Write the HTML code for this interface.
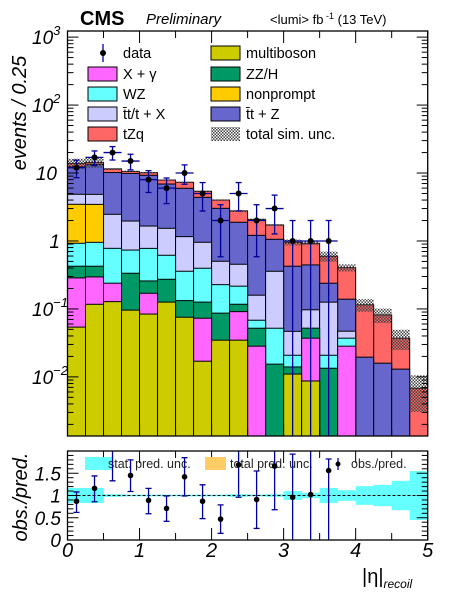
<!DOCTYPE html>
<html><head><meta charset="utf-8"><style>
html,body{margin:0;padding:0;background:#fff;}
svg{display:block;font-family:"Liberation Sans",sans-serif;}
</style></head><body>
<svg id="c" width="450" height="600" viewBox="0 0 450 600"></svg>
<script>
const binEdges = [0,0.25,0.5,0.75,1,1.25,1.5,1.75,2,2.25,2.5,2.75,3,3.25,3.5,3.75,4,4.25,4.5,4.75,5];
const multiboson = [0.054,0.117,0.128,0.096,0.084,0.126,0.0755,0.017,0.0347,0.0347,0,0,0.011,0.0087,0,0,0,0,0,0];
const xgamma = [0.232,0.179,0.111,0,0.086,0,0,0.056,0,0.0565,0.0283,0,0,0.0284,0,0.0283,0,0,0,0];
const zzh = [0.139,0.129,0,0.239,0.088,0.147,0.057,0.053,0.052,0.026,0.0237,0.0154,0.003,0.015,0.0134,0,0,0,0,0];
const wz = [0.50,0.53,0.54,0.40,0.52,0.343,0.226,0.271,0.141,0.099,0.0162,0.0366,0.0068,0,0.0074,0.0088,0,0,0,0];
const nonprompt = [2.54,2.50,0,0,0,0,0,0,0,0,0,0,0,0,0,0,0,0,0,0];
const ttx = [1.40,1.40,1.69,1.23,0.88,0.92,0.80,0.56,0.275,0.238,0.091,0.306,0.026,0.045,0.105,0.0099,0,0,0,0];
const ttz = [7.5,8.5,7.7,7.9,7.6,5.35,4.8,3.43,2.52,1.43,1.05,0.70,0.378,0.347,0.113,0.092,0.0195,0.0159,0.013,0];
const tzq = [1.5,1.0,1.3,0.7,0.85,1.0,1.34,1.0,0.98,0.88,0.87,0.66,0.53,0.48,0.357,0.266,0.0955,0.0657,0.0241,0.0068];
const relUnc = [0.17,0.17,0.03,0.02,0.02,0.02,0.02,0.02,0.02,0.03,0.02,0.03,0.1,0.06,0.17,0.12,0.21,0.24,0.33,0.55];
const dataCounts = [12,17,20,15,8,6,10,5,2,5,2,3,1,1,1,null,null,null,null,null];
const ratioVals = [0.87,1.16,2.1,1.45,0.89,0.71,1.42,0.87,0.47,1.69,0.91,1.66,0.96,1.02,1.56,null,null,null,null,null];
const ratioUp = [1.08,1.44,2.6,1.8,1.16,0.99,1.85,1.24,0.79,2.1,1.55,2.2,1.93,2.2,1.82,null,null,null,null,null];
const ratioDn = [0.62,0.86,1.33,1.09,0.59,0.42,0.99,0.48,0.15,0.96,0.26,0.68,0,0,0,null,null,null,null,null];
const yTicksMain = [-2,-1,0,1,2,3];
const xTickLabels = ["0","1","2","3","4","5"];
const ratioTickLabels = [[0,"0"],[0.5,"0.5"],[1,"1"],[1.5,"1.5"]];

const NS="http://www.w3.org/2000/svg";
const svg=document.getElementById('c');
function el(tag,attrs,parent){const e=document.createElementNS(NS,tag);for(const k in attrs)e.setAttribute(k,attrs[k]);(parent||svg).appendChild(e);return e;}
const X0=67.5,X1=427.7,YT=31,YB=436,LMIN=-2.87,LMAX=3.09;
const RT=451,RB=540,RMIN=0,RMAX=2;
const xs=v=>X0+(v-0)/(5-0)*(X1-X0);
const ys=v=>{if(v<=0)return YB+5;const l=Math.log10(v);return YT+(LMAX-l)/(LMAX-LMIN)*(YB-YT);};
const yr=v=>RB-(v-RMIN)/(RMAX-RMIN)*(RB-RT);
const clampM=y=>Math.max(YT,Math.min(YB,y));
const clampR=y=>Math.max(RT,Math.min(RB,y));

const defs=el('defs',{});
const pat=el('pattern',{id:'hatch',width:'3',height:'3',patternUnits:'userSpaceOnUse'},defs);
el('rect',{x:0,y:0,width:1.5,height:1.5,fill:'#444'},pat);
el('rect',{x:1.5,y:1.5,width:1.5,height:1.5,fill:'#444'},pat);
const clip=el('clipPath',{id:'mainclip'},defs);el('rect',{x:X0,y:YT,width:X1-X0,height:YB-YT},clip);
const clip2=el('clipPath',{id:'ratclip'},defs);el('rect',{x:X0,y:RT,width:X1-X0,height:RB-RT},clip2);

const layers=[['multiboson',multiboson,'#cccc00'],['x-gamma',xgamma,'#ff66ff'],['zz-h',zzh,'#009966'],['wz',wz,'#66ffff'],['nonprompt',nonprompt,'#ffcc00'],['ttbar-x',ttx,'#ccccff'],['ttz',ttz,'#6666cc'],['tzq',tzq,'#ff6666']];
const gStack=el('g',{'clip-path':'url(#mainclip)'});


const cum=new Array(20).fill(0);
const tops=layers.map(()=>[]);
layers.forEach((L,li)=>{for(let i=0;i<20;i++){cum[i]+=L[1][i];tops[li].push(cum[i]);}});
for(let li=layers.length-1;li>=0;li--){
  const L=layers[li];
  for(let i=0;i<20;i++){
    if(tops[li][i]<=0||L[1][i]<=0)continue;
    const y=clampM(ys(tops[li][i]));
    const r=el('rect',{x:xs(binEdges[i]),y:y,width:xs(binEdges[i+1])-xs(binEdges[i]),height:YB-y,fill:L[2],stroke:'#000','stroke-width':1},gStack);
    
    
  }
}
const total=cum.slice();
for(let i=0;i<20;i++){
  if(total[i]<=0)continue;
  const y1=clampM(ys(total[i]*(1+relUnc[i]))),y2=clampM(ys(total[i]*(1-relUnc[i])));
  const r=el('rect',{x:xs(binEdges[i]),y:y1,width:xs(binEdges[i+1])-xs(binEdges[i]),height:y2-y1,fill:'url(#hatch)'},gStack);
  
  
}
const gData=el('g',{'clip-path':'url(#mainclip)'});


for(let i=0;i<20;i++){
  const n=dataCounts[i];if(n==null)continue;
  const cx=(xs(binEdges[i])+xs(binEdges[i+1]))/2,cy=ys(n);
  const s=Math.sqrt(n),yu=ys(n+s),yd=clampM(ys(n-s));
  el('line',{x1:xs(binEdges[i]),x2:xs(binEdges[i+1]),y1:cy,y2:cy,stroke:'#000099','stroke-width':1.3},gData);
  el('line',{x1:cx,x2:cx,y1:yu,y2:yd,stroke:'#000099','stroke-width':1.3},gData);
  el('line',{x1:cx-3,x2:cx+3,y1:yu,y2:yu,stroke:'#000099','stroke-width':1.3},gData);
  if(yd<YB)el('line',{x1:cx-3,x2:cx+3,y1:yd,y2:yd,stroke:'#000099','stroke-width':1.3},gData);
  const c=el('circle',{cx:cx,cy:cy,r:3,fill:'#000'},gData);
  
  
}
const fr=el('rect',{x:X0,y:YT,width:X1-X0,height:YB-YT,fill:'none',stroke:'#000','stroke-width':1.3});


for(let d=-3;d<=3;d++){for(let m=1;m<10;m++){const v=m*Math.pow(10,d);const y=ys(v);if(y<YT||y>YB)continue;const len=m==1?11:6;
  el('line',{x1:X0,x2:X0+len,y1:y,y2:y,stroke:'#000','stroke-width':1});
  el('line',{x1:X1,x2:X1-len,y1:y,y2:y,stroke:'#000','stroke-width':1});}}
for(let k=0;k<=10;k++){const x=xs(k*0.5);const len=k%2==0?12:7;
  el('line',{x1:x,x2:x,y1:YB,y2:YB-len,stroke:'#000'});el('line',{x1:x,x2:x,y1:YT,y2:YT+len,stroke:'#000'});
  el('line',{x1:x,x2:x,y1:RB,y2:RB-len,stroke:'#000'});el('line',{x1:x,x2:x,y1:RT,y2:RT+len,stroke:'#000'});}
yTicksMain.forEach(p=>{const y=ys(Math.pow(10,p));
  let t;
  if(p==0){t=el('text',{x:60,y:y+7,'font-size':19,'font-style':'italic','text-anchor':'end'});t.textContent='1';}
  else if(p==1){t=el('text',{x:57,y:y+7,'font-size':19,'font-style':'italic','text-anchor':'end'});t.textContent='10';}
  else{t=el('text',{x:32,y:y+7,'font-size':19,'font-style':'italic'});const a=el('tspan',{},t);a.textContent='10';const b=el('tspan',{dy:-9,'font-size':13},t);b.textContent=p<0?'\u2212'+(-p):String(p);}
  
  
});
let tt=el('text',{x:0,y:0,'font-size':20,'font-style':'italic','text-anchor':'middle',transform:'translate(26,113) rotate(-90)'});
tt.textContent='events / 0.25';

tt=el('text',{x:80,y:25,'font-size':20,'font-weight':'bold'});tt.textContent='CMS';
tt=el('text',{x:146,y:24,'font-size':15,'font-style':'italic'});tt.textContent='Preliminary';
tt=el('text',{x:270,y:24,'font-size':13});const t1=el('tspan',{},tt);t1.textContent='<lumi> fb';const t2=el('tspan',{dy:-5,'font-size':9},tt);t2.textContent=' -1';const t3=el('tspan',{dy:5},tt);t3.textContent=' (13 TeV)';


const legL=[['data',null],['X +  \u03b3','#ff66ff'],['WZ','#66ffff'],['t\u0304t/t + X','#ccccff'],['tZq','#ff6666']];
const legR=[['multiboson','#cccc00'],['ZZ/H','#009966'],['nonprompt','#ffcc00'],['t\u0304t + Z','#6666cc'],['total sim. unc.','hatch']];
const legY=[53,74,94,114,134];
const gLeg=el('g',{});
function legRow(x,y,lab,col){
  const g=el('g',{},gLeg);
  if(col==null){el('line',{x1:x+15,x2:x+15,y1:y-9,y2:y+9,stroke:'#000099','stroke-width':1.3},g);el('circle',{cx:x+15,cy:y,r:3,fill:'#000'},g);}
  else if(col=='hatch'){el('rect',{x:x,y:y-7,width:29,height:14,fill:'url(#hatch)'},g);}
  else el('rect',{x:x,y:y-7,width:29,height:14,fill:col,stroke:'#000','stroke-width':1},g);
  const t=el('text',{x:x+35,y:y+5,'font-size':14.5},g);t.textContent=lab;
}
legL.forEach((e,i)=>legRow(88,legY[i],e[0],e[1]));
legR.forEach((e,i)=>legRow(211,legY[i],e[0],e[1]));

const gR=el('g',{'clip-path':'url(#ratclip)'});
for(let i=0;i<20;i++){const y1=yr(1+relUnc[i]),y2=yr(1-relUnc[i]);
  const r=el('rect',{x:xs(binEdges[i]),y:y1,width:xs(binEdges[i+1])-xs(binEdges[i])+0.3,height:y2-y1,fill:'#66ffff'},gR);
  }
el('line',{x1:X0,x2:X1,y1:yr(1),y2:yr(1),stroke:'#000','stroke-dasharray':'3,2','stroke-width':1},gR);
el('rect',{x:85,y:457,width:27,height:13,fill:'#66ffff'},gR);
tt=el('text',{x:108,y:468,'font-size':12.5,fill:'#222'},gR);tt.textContent='stat. pred. unc.';
el('rect',{x:205,y:457,width:21,height:13,fill:'#ffcc66'},gR);
tt=el('text',{x:230,y:468,'font-size':12.5,fill:'#222'},gR);tt.textContent='total pred. unc.';
el('line',{x1:338,x2:338,y1:458,y2:470,stroke:'#000099','stroke-width':1.3},gR);el('circle',{cx:338,cy:464,r:2.5,fill:'#000'},gR);
tt=el('text',{x:351,y:468,'font-size':12.5,fill:'#222'},gR);tt.textContent='obs./pred.';
for(let i=0;i<20;i++){const v=ratioVals[i];if(v==null)continue;
  const cx=(xs(binEdges[i])+xs(binEdges[i+1]))/2;const yu=clampR(yr(ratioUp[i])),yd=clampR(yr(ratioDn[i]));
  el('line',{x1:cx,x2:cx,y1:yu,y2:yd,stroke:'#000099','stroke-width':1.3},gR);
  if(yu>RT)el('line',{x1:cx-3,x2:cx+3,y1:yu,y2:yu,stroke:'#000099','stroke-width':1.3},gR);
  if(yd<RB)el('line',{x1:cx-3,x2:cx+3,y1:yd,y2:yd,stroke:'#000099','stroke-width':1.3},gR);
  const c=el('circle',{cx:cx,cy:yr(v),r:2.8,fill:'#000'},gR);
  }
const fr2=el('rect',{x:X0,y:RT,width:X1-X0,height:RB-RT,fill:'none',stroke:'#000','stroke-width':1.3});

for(let k=0;k<=19;k++){const v=k*0.1;const y=yr(v);const len=k%5==0?11:6;
  el('line',{x1:X0,x2:X0+len,y1:y,y2:y,stroke:'#000'});el('line',{x1:X1,x2:X1-len,y1:y,y2:y,stroke:'#000'});}
ratioTickLabels.forEach(r=>{const t=el('text',{x:61,y:yr(r[0])+7,'font-size':19,'font-style':'italic','text-anchor':'end'});t.textContent=r[1];
  });
tt=el('text',{x:0,y:0,'font-size':20,'font-style':'italic','text-anchor':'middle',transform:'translate(27,497) rotate(-90)'});
tt.textContent='obs./pred.';
xTickLabels.forEach((l,i)=>{const t=el('text',{x:xs(i),y:557,'font-size':20,'font-style':'italic','text-anchor':'middle'});t.textContent=l;
  });
tt=el('text',{x:362,y:583,'font-size':20});const a1=el('tspan',{},tt);a1.textContent='|\u03b7|';const a2=el('tspan',{dy:5,'font-size':12,'font-style':'italic'},tt);a2.textContent='recoil';

</script>
</body></html>
